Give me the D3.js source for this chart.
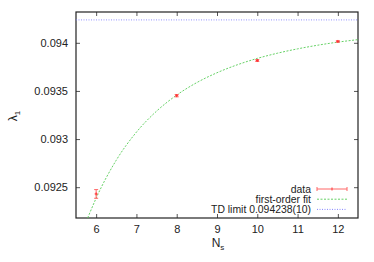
<!DOCTYPE html>
<html>
<head>
<meta charset="utf-8">
<script src="https://cdn.jsdelivr.net/npm/d3@7"></script>
<style>
  body { margin: 0; background: #fff; }
  svg text { font-family: "Liberation Sans", Arial, sans-serif; fill: #222; }
</style>
</head>
<body>
<svg id="chart" width="374" height="262"></svg>
<script>
// data
const sizes = [6, 8, 10, 12];
const lambdas = [0.09243, 0.093451, 0.093816, 0.094014];
const errors = [0.000045, 0.000012, 0.000010, 0.000008];

// fit curve
const fitN = [5.79, 6, 6.5, 7, 7.5, 8, 8.5, 9, 9.5, 10, 10.5, 11, 11.5, 12, 12.5];
const fitL = [0.09218, 0.092386, 0.092781, 0.093072, 0.09329, 0.093457, 0.093587,
  0.093689, 0.093771, 0.093838, 0.093892, 0.093937, 0.093975, 0.094007, 0.094033];

const tdLimit = 0.094238;
const xTicks = [6, 7, 8, 9, 10, 11, 12];
const yTicks = [0.0925, 0.093, 0.0935, 0.094];
const legendLabels = ["data", "first-order fit", "TD limit 0.094238(10)"];

const svg = d3.select("#chart");
const m = { left: 76, right: 16, top: 12, bottom: 44 };
const W = 374 - m.left - m.right, H = 262 - m.top - m.bottom;

const x = d3.scaleLinear().domain([5.5, 12.5]).range([0, W]);
const y = d3.scaleLinear().domain([0.09218, 0.09432]).range([H, 0]);

const g = svg.append("g").attr("transform", "translate(" + m.left + "," + m.top + ")");

svg.append("defs").append("clipPath").attr("id", "clip")
  .append("rect").attr("width", W).attr("height", H);

// axes, ticks pointing inward, mirrored
const tl = 4;
const axB = g.append("g").attr("transform", "translate(0," + H + ")")
  .call(d3.axisBottom(x).tickValues(xTicks).tickSize(-tl).tickPadding(7).tickFormat(d3.format("d")));
const axT = g.append("g")
  .call(d3.axisTop(x).tickValues(xTicks).tickSize(-tl).tickFormat(""));
const axL = g.append("g")
  .call(d3.axisLeft(y).tickValues(yTicks).tickSize(-tl).tickPadding(8).tickFormat(d => String(+d.toFixed(4))));
const axR = g.append("g").attr("transform", "translate(" + W + ",0)")
  .call(d3.axisRight(y).tickValues(yTicks).tickSize(-tl).tickFormat(""));

[axB, axT, axL, axR].forEach(a => {
  a.select(".domain").remove();
  a.selectAll("line").attr("stroke", "#555");
  a.selectAll("text").style("font-size", "11px").attr("fill", "#222");
});

g.append("rect").attr("width", W).attr("height", H)
  .attr("fill", "none").attr("stroke", "#222").attr("stroke-width", 1.2);

const plot = g.append("g").attr("clip-path", "url(#clip)");

// TD limit line
plot.append("line")
  .attr("x1", 0).attr("x2", W)
  .attr("y1", y(tdLimit)).attr("y2", y(tdLimit))
  .attr("stroke", "#77f").attr("stroke-width", 0.8).attr("stroke-dasharray", "1,1.5");

// fit curve
const fitData = fitN.map((n, i) => [n, fitL[i]]);
plot.append("path").datum(fitData)
  .attr("d", d3.line().x(d => x(d[0])).y(d => y(d[1])).curve(d3.curveMonotoneX))
  .attr("fill", "none").attr("stroke", "#5c5").attr("stroke-width", 0.9)
  .attr("stroke-dasharray", "2,1.5");

// data with error bars
const red = "#f66";
const pts = plot.selectAll("g.pt").data(sizes.map((n, i) => ({ n: n, l: lambdas[i], e: errors[i] })))
  .enter().append("g").attr("class", "pt");
pts.append("line")
  .attr("x1", d => x(d.n)).attr("x2", d => x(d.n))
  .attr("y1", d => y(d.l - d.e)).attr("y2", d => y(d.l + d.e))
  .attr("stroke", red);
[-1, 1].forEach(s => {
  pts.append("line")
    .attr("x1", d => x(d.n) - 2).attr("x2", d => x(d.n) + 2)
    .attr("y1", d => y(d.l + s * d.e)).attr("y2", d => y(d.l + s * d.e))
    .attr("stroke", red);
});
pts.append("path")
  .attr("d", d => "M" + (x(d.n) - 1.5) + "," + y(d.l) + "h3M" + x(d.n) + "," + (y(d.l) - 1.5) + "v3")
  .attr("stroke", "#f33").attr("stroke-width", 1);

// axis labels
const ylab = svg.append("text")
  .attr("transform", "translate(17,116) rotate(-90)")
  .attr("text-anchor", "middle").style("font-size", "12px");
ylab.append("tspan").text("λ");
ylab.append("tspan").attr("dy", 3).style("font-size", "8px").text("1");

const xlab = svg.append("text")
  .attr("x", 218).attr("y", 247)
  .attr("text-anchor", "middle").style("font-size", "12px");
xlab.append("tspan").text("N");
xlab.append("tspan").attr("dy", 3).style("font-size", "8px").text("s");

// legend
const lg = g.append("g");
const lx = 311 - m.left, sx1 = 317 - m.left, sx2 = 347 - m.left;
legendLabels.forEach((lab, i) => {
  const ly = 189 - m.top + i * 10.2;
  lg.append("text").attr("x", lx).attr("y", ly).attr("dy", "0.35em")
    .attr("text-anchor", "end").style("font-size", "10.4px").text(lab);
  if (i === 0) {
    lg.append("line").attr("x1", sx1).attr("x2", sx2).attr("y1", ly).attr("y2", ly).attr("stroke", red);
    [sx1, sx2].forEach(px => lg.append("line").attr("x1", px).attr("x2", px)
      .attr("y1", ly - 2).attr("y2", ly + 2).attr("stroke", red));
    lg.append("path").attr("d", "M" + ((sx1 + sx2) / 2) + "," + (ly - 1.5) + "v3")
      .attr("stroke", "#f33");
  } else {
    lg.append("line").attr("x1", sx1).attr("x2", sx2).attr("y1", ly).attr("y2", ly)
      .attr("stroke", i === 1 ? "#5c5" : "#77f").attr("stroke-width", 0.9)
      .attr("stroke-dasharray", i === 1 ? "2,1.5" : "1,1.5");
  }
});
</script>
</body>
</html>
